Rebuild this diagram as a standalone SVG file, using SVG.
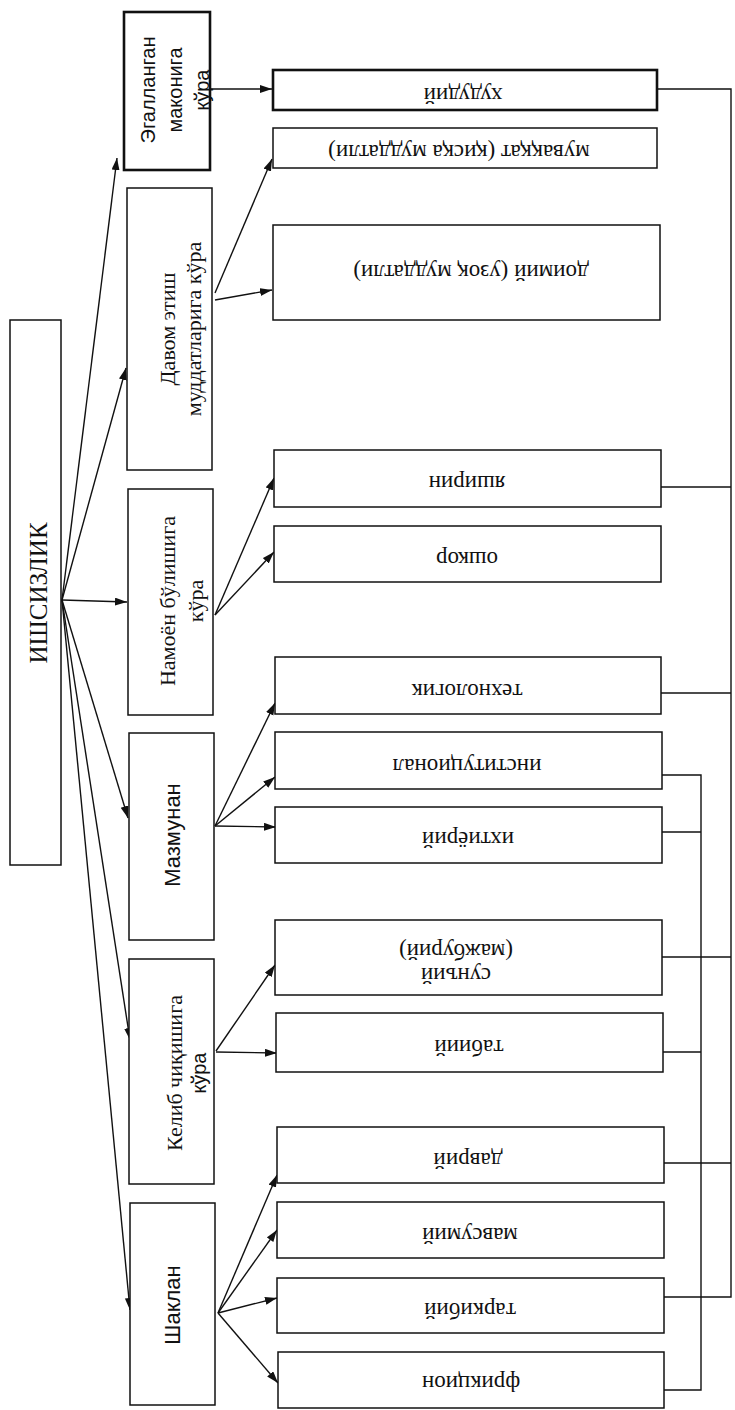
<svg xmlns="http://www.w3.org/2000/svg" width="735" height="1410" viewBox="0 0 735 1410">
<defs>
<marker id="ah" markerUnits="userSpaceOnUse" markerWidth="14" markerHeight="10" refX="12" refY="4" orient="auto">
<path d="M0,0 L12,4 L0,8 z" fill="#111"/>
</marker>
<style>
.box{fill:#fff;stroke:#111;stroke-width:1.5}
.thick{stroke-width:2.6}
.ln{fill:none;stroke:#111;stroke-width:1.4}
.ar{fill:none;stroke:#111;stroke-width:1.4;marker-end:url(#ah)}
.serif{font-family:"Liberation Serif","DejaVu Serif",serif;fill:#111}
.sans{font-family:"Liberation Sans","DejaVu Sans",sans-serif;fill:#111}
.rt{font-family:"Liberation Serif","DejaVu Serif",serif;font-size:23px;fill:#111;text-anchor:middle;dominant-baseline:middle}
</style>
</defs>
<rect width="735" height="1410" fill="#fff"/>

<g id="connectors">
<!-- root fan -->
<line class="ar" x1="62" y1="600" x2="117" y2="158"/>
<line class="ar" x1="62" y1="600" x2="126" y2="368"/>
<line class="ar" x1="62" y1="600" x2="127" y2="602"/>
<line class="ar" x1="62" y1="600" x2="128" y2="818"/>
<line class="ar" x1="62" y1="600" x2="130" y2="1040"/>
<line class="ar" x1="62" y1="600" x2="130" y2="1310"/>
<!-- category fans -->
<line class="ar" x1="210" y1="89" x2="272" y2="89"/>
<line class="ar" x1="215" y1="293" x2="272" y2="159"/>
<line class="ar" x1="215" y1="300" x2="272" y2="290"/>
<line class="ar" x1="215" y1="615" x2="274" y2="478"/>
<line class="ar" x1="215" y1="615" x2="274" y2="552"/>
<line class="ar" x1="215" y1="826" x2="275" y2="703"/>
<line class="ar" x1="215" y1="826" x2="275" y2="777"/>
<line class="ar" x1="215" y1="826" x2="276" y2="827"/>
<line class="ar" x1="216" y1="1051" x2="275" y2="965"/>
<line class="ar" x1="216" y1="1052" x2="277" y2="1053"/>
<line class="ar" x1="218" y1="1313" x2="277" y2="1175"/>
<line class="ar" x1="218" y1="1313" x2="277" y2="1230"/>
<line class="ar" x1="218" y1="1313" x2="277" y2="1298"/>
<line class="ar" x1="218" y1="1313" x2="278" y2="1383"/>
<!-- right brackets -->
<polyline class="ln" points="657,89 731,89 731,1297 664,1297"/>
<line class="ln" x1="661" y1="487" x2="731" y2="487"/>
<line class="ln" x1="661" y1="693" x2="731" y2="693"/>
<line class="ln" x1="662" y1="957" x2="731" y2="957"/>
<line class="ln" x1="664" y1="1163" x2="731" y2="1163"/>
<polyline class="ln" points="662,775 701,775 701,1390 664,1390"/>
<line class="ln" x1="662" y1="832" x2="701" y2="832"/>
<line class="ln" x1="663" y1="1052" x2="701" y2="1052"/>
</g>

<g id="root">
<rect class="box" x="10" y="320" width="51" height="545"/>
<text class="serif" font-size="25" text-anchor="middle" transform="translate(47,593) rotate(-90)">ИШСИЗЛИК</text>
</g>

<g id="cat-egallangan">
<rect class="box thick" x="124" y="12" width="86" height="158"/>
<text class="sans" font-size="20" text-anchor="middle" transform="translate(155,90) rotate(-90)"><tspan x="0" dy="0">Эгалланган</tspan><tspan x="0" dy="27">маконига</tspan><tspan x="0" dy="27">кўра</tspan></text>
</g>
<g id="cat-davom">
<rect class="box" x="127" y="188" width="85" height="282"/>
<text class="serif" font-size="22" text-anchor="middle" transform="translate(175,329) rotate(-90)"><tspan x="0" dy="0">Давом  этиш</tspan><tspan x="0" dy="26">муддатларига  кўра</tspan></text>
</g>
<g id="cat-namoyon">
<rect class="box" x="128" y="489" width="85" height="226"/>
<text class="serif" font-size="22" text-anchor="middle" transform="translate(175,601) rotate(-90)"><tspan x="0" dy="0">Намоён  бўлишига</tspan><tspan x="0" dy="28">кўра</tspan></text>
</g>
<g id="cat-mazmunan">
<rect class="box" x="129" y="733" width="85" height="207"/>
<text class="sans" font-size="22" text-anchor="middle" transform="translate(180,835) rotate(-90)">Мазмунан</text>
</g>
<g id="cat-kelib">
<rect class="box" x="129" y="959" width="85" height="225"/>
<text class="serif" font-size="22" text-anchor="middle" transform="translate(182,1073) rotate(-90)"><tspan x="0" dy="0">Келиб  чиқишига</tspan><tspan x="0" dy="24" class="sans" font-size="20">кўра</tspan></text>
</g>
<g id="cat-shaklan">
<rect class="box" x="130" y="1203" width="85" height="202"/>
<text class="sans" font-size="22" text-anchor="middle" transform="translate(180,1305) rotate(-90)">Шаклан</text>
</g>

<g id="n-hududiy">
<rect class="box thick" x="273" y="70" width="384" height="40"/>
<text class="rt" transform="translate(463,93) rotate(180)">худудий</text>
</g>
<g id="n-muvaqqat">
<rect class="box" x="273" y="128" width="384" height="40" stroke-width="2"/>
<text class="rt" transform="translate(459,150) rotate(180)">муваққат  (қисқа  муддатли)</text>
</g>
<g id="n-doimiy">
<rect class="box" x="273" y="225" width="387" height="95"/>
<text class="rt" transform="translate(471,270) rotate(180)">доимий  (узоқ  муддатли)</text>
</g>
<g id="n-yashirin">
<rect class="box" x="274" y="450" width="387" height="57"/>
<text class="rt" transform="translate(467,481) rotate(180)">яширин</text>
</g>
<g id="n-oshkor">
<rect class="box" x="274" y="526" width="387" height="56"/>
<text class="rt" transform="translate(467,557) rotate(180)">ошкор</text>
</g>
<g id="n-tehnologik">
<rect class="box" x="275" y="657" width="386" height="57"/>
<text class="rt" transform="translate(467,689) rotate(180)">технологик</text>
</g>
<g id="n-institutsional">
<rect class="box" x="275" y="732" width="387" height="57"/>
<text class="rt" transform="translate(467,764) rotate(180)">институционал</text>
</g>
<g id="n-ihtiyoriy">
<rect class="box" x="275" y="807" width="387" height="56"/>
<text class="rt" transform="translate(468,837) rotate(180)">ихтиёрий</text>
</g>
<g id="n-suniy">
<rect class="box" x="275" y="920" width="387" height="75"/>
<text class="rt" transform="translate(456,973) rotate(180)"><tspan x="0" dy="0">сунъий</tspan><tspan x="0" dy="24">(мажбурий)</tspan></text>
</g>
<g id="n-tabiiy">
<rect class="box" x="276" y="1013" width="387" height="59"/>
<text class="rt" transform="translate(469,1045) rotate(180)">табиий</text>
</g>
<g id="n-davriy">
<rect class="box" x="277" y="1127" width="387" height="56"/>
<text class="rt" transform="translate(468,1158) rotate(180)">даврий</text>
</g>
<g id="n-mavsumiy">
<rect class="box" x="277" y="1202" width="387" height="56"/>
<text class="rt" transform="translate(470,1233) rotate(180)">мавсумий</text>
</g>
<g id="n-tarkibiy">
<rect class="box" x="277" y="1278" width="387" height="55"/>
<text class="rt" transform="translate(470,1308) rotate(180)">таркибий</text>
</g>
<g id="n-friktsion">
<rect class="box" x="278" y="1352" width="386" height="56"/>
<text class="rt" transform="translate(471,1381) rotate(180)">фрикцион</text>
</g>
</svg>
